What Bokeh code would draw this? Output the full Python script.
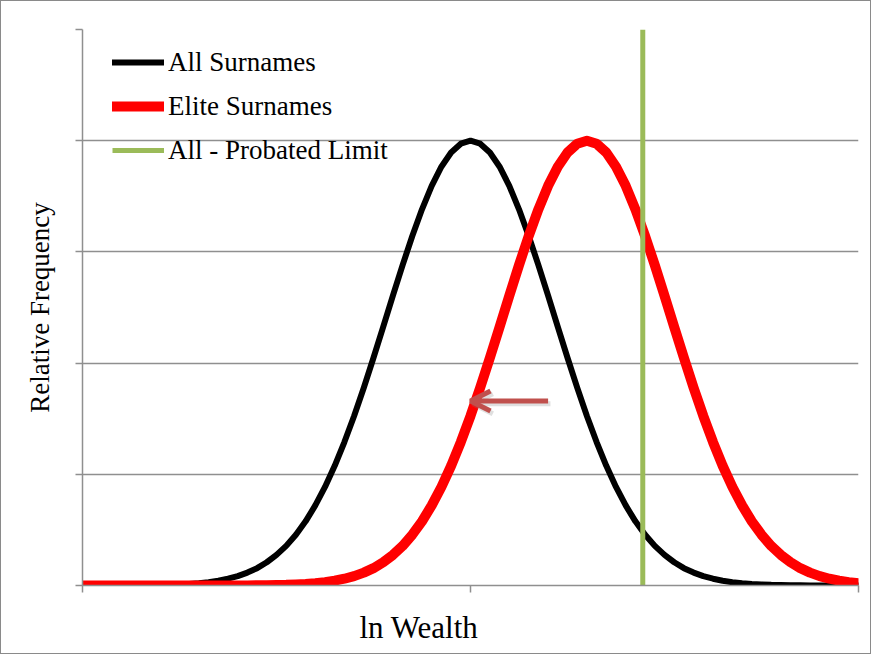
from bokeh.plotting import figure
from bokeh.models import (Legend, LegendItem, Title, Arrow, OpenHead,
                          FixedTicker, Range1d, CustomLabelingPolicy)
from bokeh.embed import file_html
from bokeh.resources import INLINE

# ---- data ----
ln_wealth = [0, 1.25, 2.5, 3.75, 5, 6.25, 7.5, 8.75, 10, 11.25, 12.5, 13.75,
             15, 16.25, 17.5, 18.75, 20, 21.25, 22.5, 23.75, 25, 26.25, 27.5,
             28.75, 30, 31.25, 32.5, 33.75, 35, 36.25, 37.5, 38.75, 40, 41.25,
             42.5, 43.75, 45, 46.25, 47.5, 48.75, 50, 51.25, 52.5, 53.75, 55,
             56.25, 57.5, 58.75, 60, 61.25, 62.5, 63.75, 65, 66.25, 67.5, 68.75,
             70, 71.25, 72.5, 73.75, 75, 76.25, 77.5, 78.75, 80, 81.25, 82.5,
             83.75, 85, 86.25, 87.5, 88.75, 90, 91.25, 92.5, 93.75, 95, 96.25,
             97.5, 98.75, 100]

all_surnames = [0.000, 0.000, 0.000, 0.000, 0.001, 0.001, 0.002, 0.003, 0.004,
                0.006, 0.010, 0.014, 0.021, 0.030, 0.043, 0.061, 0.084, 0.116,
                0.156, 0.209, 0.275, 0.356, 0.457, 0.577, 0.720, 0.886, 1.076,
                1.290, 1.525, 1.779, 2.048, 2.325, 2.606, 2.881, 3.143, 3.383,
                3.594, 3.766, 3.894, 3.973, 4.000, 3.973, 3.894, 3.766, 3.594,
                3.383, 3.143, 2.881, 2.606, 2.325, 2.048, 1.779, 1.525, 1.290,
                1.076, 0.886, 0.720, 0.577, 0.457, 0.356, 0.275, 0.209, 0.156,
                0.116, 0.084, 0.061, 0.043, 0.030, 0.021, 0.014, 0.010, 0.006,
                0.004, 0.003, 0.002, 0.001, 0.001, 0.000, 0.000, 0.000, 0.000]

elite_surnames = [0.000, 0.000, 0.000, 0.000, 0.000, 0.000, 0.000, 0.000, 0.000,
                  0.000, 0.000, 0.000, 0.000, 0.000, 0.000, 0.000, 0.001, 0.001,
                  0.002, 0.003, 0.004, 0.006, 0.010, 0.014, 0.021, 0.030, 0.043,
                  0.061, 0.084, 0.116, 0.156, 0.209, 0.275, 0.356, 0.457, 0.577,
                  0.720, 0.886, 1.076, 1.290, 1.525, 1.779, 2.048, 2.325, 2.606,
                  2.881, 3.143, 3.383, 3.594, 3.766, 3.894, 3.973, 4.000, 3.973,
                  3.894, 3.766, 3.594, 3.383, 3.143, 2.881, 2.606, 2.325, 2.048,
                  1.779, 1.525, 1.290, 1.076, 0.886, 0.720, 0.577, 0.457, 0.356,
                  0.275, 0.209, 0.156, 0.116, 0.084, 0.061, 0.043, 0.030, 0.021]

probated_limit = 72.2
freq_extent = [0, 5]

x_ticks = [0, 50, 100]
y_ticks = [0, 1, 2, 3, 4, 5]

arrow_from = 60.0
arrow_to = 50.0
arrow_level = 1.66

series_labels = ["All Surnames", "Elite Surnames", "All - Probated Limit"]
x_title = "ln Wealth"
y_title = "Relative Frequency"

# ---- figure ----
GRID = "#8f8f8f"
SERIF = "Liberation Serif"

p = figure(width=871, height=654, x_range=Range1d(0, 100), y_range=Range1d(0, 5),
           output_backend="svg", toolbar_location=None, title=None,
           min_border_left=81, min_border_right=14, min_border_top=28,
           min_border_bottom=70)
p.styles = {"border": "1px solid #8a8a8a"}
p.outline_line_color = None
p.background_fill_color = "white"
p.border_fill_color = "white"

p.xgrid.visible = False
p.ygrid.ticker = FixedTicker(ticks=y_ticks)
p.ygrid.grid_line_color = GRID
p.ygrid.grid_line_width = 1.5

no_labels = CustomLabelingPolicy(code="for (const i of indices) { indices.unset(i) }; return indices")

for ax in (p.xaxis, p.yaxis):
    ax.axis_line_color = GRID
    ax.axis_line_width = 1.5
    ax.major_tick_line_color = GRID
    ax.major_tick_line_width = 1.5
    ax.major_tick_in = 0
    ax.major_tick_out = 7
    ax.minor_tick_line_color = None
    ax.major_label_policy = no_labels
    ax.major_label_standoff = 0

p.xaxis.ticker = FixedTicker(ticks=x_ticks)
p.yaxis.ticker = FixedTicker(ticks=y_ticks)
p.yaxis.axis_label = y_title
p.yaxis.axis_label_text_font = SERIF
p.yaxis.axis_label_text_font_size = "27px"
p.yaxis.axis_label_text_font_style = "normal"
p.yaxis.axis_label_text_color = "black"
p.yaxis.axis_label_standoff = 11

r_all = p.line(ln_wealth, all_surnames, line_color="black", line_width=6,
               line_join="round", line_cap="round")
r_elite = p.line(ln_wealth, elite_surnames, line_color="#ff0000", line_width=10,
                 line_join="round", line_cap="round")
r_limit = p.line([probated_limit, probated_limit], freq_extent,
                 line_color="#9bbb59", line_width=5)

# arrow (with soft shadow)
p.add_layout(Arrow(end=OpenHead(size=20, line_color="#7f7f7f", line_width=5, line_alpha=0.25),
                   x_start=arrow_from + 0.3, x_end=arrow_to + 0.3,
                   y_start=arrow_level - 0.025, y_end=arrow_level - 0.025,
                   line_color="#7f7f7f", line_width=5, line_alpha=0.25))
p.add_layout(Arrow(end=OpenHead(size=20, line_color="#c0504d", line_width=5),
                   x_start=arrow_from, x_end=arrow_to,
                   y_start=arrow_level, y_end=arrow_level,
                   line_color="#c0504d", line_width=5))

legend = Legend(items=[LegendItem(label=series_labels[0], renderers=[r_all]),
                       LegendItem(label=series_labels[1], renderers=[r_elite]),
                       LegendItem(label=series_labels[2], renderers=[r_limit])],
                location=(30, 418), padding=0, margin=0, spacing=10,
                glyph_width=52, glyph_height=34, label_height=34,
                label_standoff=4, border_line_color=None,
                background_fill_alpha=0,
                label_text_font=SERIF, label_text_font_size="27px",
                label_text_color="black")
p.add_layout(legend)

p.add_layout(Title(text=x_title, align="left", offset=277, standoff=9,
                   text_font=SERIF, text_font_size="31px",
                   text_font_style="normal", text_color="black"), "below")

open("out.html", "w").write(file_html(p, INLINE))
